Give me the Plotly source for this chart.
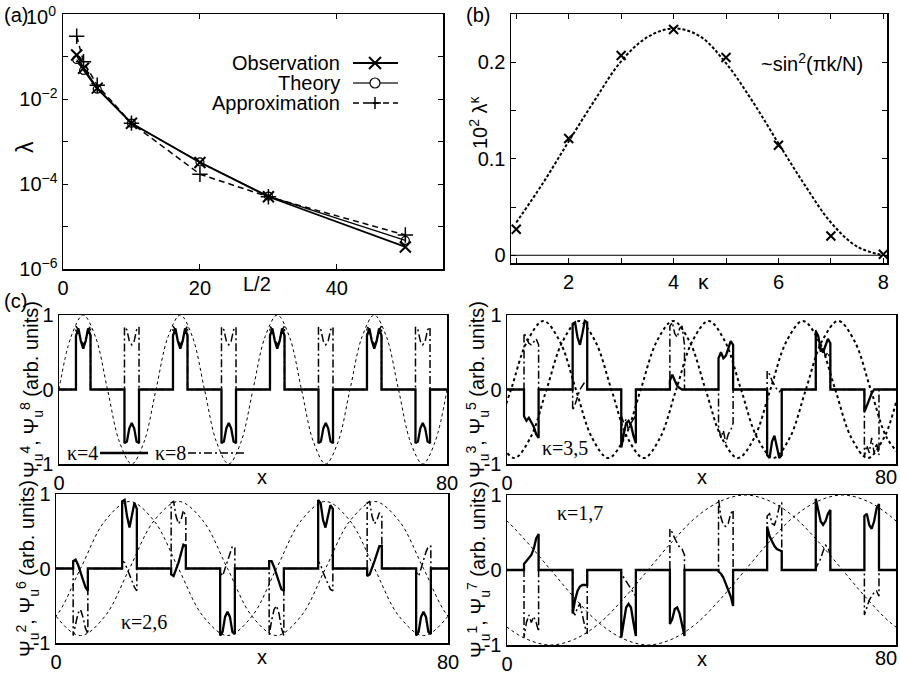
import plotly.graph_objects as go

W, H = 900, 675
SANS = "Liberation Sans"
SERIF = "Liberation Serif"

# ---------------- (a) data ----------------
HALF_L = [2, 3, 5, 10, 20, 30, 50]
LAMBDA_OBS = [0.108, 0.053, 0.018, 0.0027, 3.2e-4, 5.0e-5, 3.3e-6]
LAMBDA_THEORY = [0.085, 0.047, 0.017, 0.0027, 3.3e-4, 5.2e-5, 4.7e-6]
LAMBDA_APPROX = [0.30, 0.075, 0.021, 0.0027, 1.7e-4, 5.0e-5, 6.3e-6]
A_YTICKS = [1e-6, 1e-5, 1e-4, 1e-3, 1e-2, 1e-1, 1]
A_YTEXT = ["10<sup>−6</sup>", "", "10<sup>−4</sup>", "", "10<sup>−2</sup>", "", ""]

# ---------------- (b) data ----------------
KAPPA = [1, 2, 3, 4, 5, 6, 7, 8]
LAMBDA_K = [0.027, 0.121, 0.207, 0.234, 0.205, 0.114, 0.020, 0.001]
KAPPA_FIT = [1, 1.5, 2, 2.5, 3, 3.5, 4, 4.5, 5, 5.5, 6, 6.5, 7, 7.5, 8]
LAMBDA_FIT = [0.034, 0.074, 0.118, 0.161, 0.201, 0.226, 0.235, 0.227, 0.199,
              0.160, 0.116, 0.073, 0.034, 0.009, 0.0]

# ---------------- (c) data ----------------
WELL_CENTERS = [5, 15, 25, 35, 45, 55, 65, 75]
HALF_W = 1.5

C1_SOLID = [  # kappa = 4
    [0.72, 0.82, 0.65, 0.55, 0.65, 0.82, 0.72],
    [-0.72, -0.70, -0.52, -0.45, -0.52, -0.70, -0.72],
    [0.72, 0.82, 0.65, 0.55, 0.65, 0.82, 0.72],
    [-0.72, -0.70, -0.52, -0.45, -0.52, -0.70, -0.72],
    [0.72, 0.82, 0.65, 0.55, 0.65, 0.82, 0.72],
    [-0.72, -0.70, -0.52, -0.45, -0.52, -0.70, -0.72],
    [0.72, 0.82, 0.65, 0.55, 0.65, 0.82, 0.72],
    [-0.72, -0.70, -0.52, -0.45, -0.52, -0.70, -0.72],
]
C1_DASHDOT = [  # kappa = 8
    [0.85, 0.80, 0.66, 0.60, 0.66, 0.80, 0.85],
    [0.84, 0.80, 0.65, 0.60, 0.65, 0.80, 0.84],
    [0.85, 0.80, 0.66, 0.60, 0.66, 0.80, 0.85],
    [0.84, 0.80, 0.65, 0.60, 0.65, 0.80, 0.84],
    [0.85, 0.80, 0.66, 0.60, 0.66, 0.80, 0.85],
    [0.84, 0.80, 0.65, 0.60, 0.65, 0.80, 0.84],
    [0.85, 0.80, 0.66, 0.60, 0.66, 0.80, 0.85],
    [0.84, 0.80, 0.65, 0.60, 0.65, 0.80, 0.84],
]
C1_ENV_X = [2.5 * i for i in range(33)]
C1_ENV_Y = [0, 0.71, 1, 0.71, 0, -0.71, -1, -0.71,
            0, 0.71, 1, 0.71, 0, -0.71, -1, -0.71,
            0, 0.71, 1, 0.71, 0, -0.71, -1, -0.71,
            0, 0.71, 1, 0.71, 0, -0.71, -1, -0.71, 0]

C2_SOLID = [  # kappa = 3
    [-0.36, -0.42, -0.38, -0.45, -0.50, -0.60, -0.65],
    [0.88, 0.90, 0.70, 0.60, 0.75, 0.92, 0.90],
    [-0.78, -0.60, -0.45, -0.42, -0.48, -0.62, -0.72],
    [0.12, 0.20, 0.12, 0.05, 0.02, 0.0, 0.0],
    [0.42, 0.50, 0.42, 0.45, 0.55, 0.65, 0.60],
    [-0.88, -0.92, -0.70, -0.62, -0.75, -0.92, -0.88],
    [0.78, 0.72, 0.55, 0.50, 0.58, 0.68, 0.62],
    [-0.30, -0.22, -0.12, -0.05, 0.0, 0.0, 0.0],
]
C2_DASHDOT = [  # kappa = 5
    [0.76, 0.70, 0.62, 0.60, 0.64, 0.68, 0.60],
    [-0.28, -0.20, -0.10, 0.0, 0.05, 0.10, 0.12],
    [-0.35, -0.45, -0.40, -0.55, -0.45, -0.40, -0.35],
    [0.85, 0.90, 0.75, 0.70, 0.82, 0.85, 0.60],
    [-0.50, -0.65, -0.55, -0.72, -0.60, -0.55, -0.45],
    [0.25, 0.20, 0.12, 0.05, 0.0, -0.03, 0.0],
    [0.80, 0.65, 0.50, 0.55, 0.45, 0.50, 0.40],
    [-0.90, -0.75, -0.85, -0.65, -0.85, -0.72, -0.88],
]
C2_ENV_A_X = [-2.5 + 10 / 3 * i for i in range(27)]
C2_ENV_A_Y = [-0.65, 0, 0.65, 0.92, 0.65, 0, -0.65, -0.92,
              -0.65, 0, 0.65, 0.92, 0.65, 0, -0.65, -0.92,
              -0.65, 0, 0.65, 0.92, 0.65, 0, -0.65, -0.92,
              -0.65, 0, 0.65]
C2_ENV_B_X = [-1.87 + 10 / 3 * i for i in range(26)]
C2_ENV_B_Y = [-0.65, -0.92, -0.65, 0, 0.65, 0.92, 0.65, 0,
              -0.65, -0.92, -0.65, 0, 0.65, 0.92, 0.65, 0,
              -0.65, -0.92, -0.65, 0, 0.65, 0.92, 0.65, 0,
              -0.65, -0.92]

C3_SOLID = [  # kappa = 2
    [0.10, 0.12, 0.05, -0.05, -0.15, -0.25, -0.30],
    [0.90, 0.92, 0.70, 0.55, 0.70, 0.88, 0.80],
    [-0.08, -0.10, -0.02, 0.08, 0.20, 0.32, 0.30],
    [-0.90, -0.85, -0.65, -0.58, -0.65, -0.85, -0.88],
    [0.10, 0.10, 0.02, -0.08, -0.18, -0.28, -0.30],
    [0.92, 0.88, 0.65, 0.55, 0.70, 0.85, 0.80],
    [-0.10, -0.08, 0.0, 0.10, 0.20, 0.30, 0.30],
    [-0.90, -0.85, -0.65, -0.58, -0.65, -0.85, -0.88],
]
C3_DASHDOT = [  # kappa = 6
    [-0.90, -0.75, -0.60, -0.55, -0.65, -0.80, -0.88],
    [0.10, 0.08, 0.0, -0.08, -0.15, -0.25, -0.30],
    [0.88, 0.90, 0.70, 0.60, 0.65, 0.78, 0.70],
    [-0.05, -0.10, 0.0, 0.10, 0.20, 0.30, 0.28],
    [-0.90, -0.70, -0.55, -0.50, -0.60, -0.80, -0.90],
    [0.10, 0.05, -0.05, -0.12, -0.20, -0.28, -0.30],
    [0.88, 0.90, 0.70, 0.60, 0.65, 0.75, 0.70],
    [-0.05, -0.10, 0.0, 0.12, 0.22, 0.30, 0.30],
]
C3_ENV_X = [-5 + 5 * i for i in range(19)]
C3_ENV_A_Y = [-0.9, -0.64, 0, 0.64, 0.9, 0.64, 0, -0.64, -0.9, -0.64,
              0, 0.64, 0.9, 0.64, 0, -0.64, -0.9, -0.64, 0]
C3_ENV_B_Y = [0, -0.64, -0.9, -0.64, 0, 0.64, 0.9, 0.64, 0, -0.64,
              -0.9, -0.64, 0, 0.64, 0.9, 0.64, 0, -0.64, -0.9]

C4_SOLID = [  # kappa = 1
    [0.08, 0.12, 0.15, 0.20, 0.28, 0.42, 0.48],
    [-0.58, -0.40, -0.28, -0.22, -0.20, -0.20, -0.20],
    [-0.90, -0.70, -0.50, -0.45, -0.50, -0.70, -0.88],
    [-0.72, -0.65, -0.52, -0.50, -0.58, -0.75, -0.88],
    [-0.02, -0.05, -0.10, -0.18, -0.25, -0.35, -0.48],
    [0.58, 0.45, 0.38, 0.32, 0.28, 0.26, 0.25],
    [0.95, 0.80, 0.65, 0.60, 0.65, 0.75, 0.80],
    [0.72, 0.75, 0.60, 0.55, 0.65, 0.82, 0.88],
]
C4_DASHDOT = [  # kappa = 7
    [-0.90, -0.70, -0.60, -0.70, -0.62, -0.70, -0.82],
    [-0.55, -0.60, -0.50, -0.45, -0.60, -0.75, -0.85],
    [-0.05, -0.10, -0.15, -0.20, -0.25, -0.30, -0.35],
    [0.55, 0.50, 0.42, 0.35, 0.30, 0.28, 0.20],
    [0.95, 0.70, 0.60, 0.58, 0.62, 0.75, 0.80],
    [0.72, 0.75, 0.62, 0.60, 0.70, 0.85, 0.90],
    [0.02, 0.08, 0.15, 0.25, 0.33, 0.30, 0.20],
    [-0.60, -0.50, -0.40, -0.35, -0.30, -0.28, -0.35],
]
C4_ENV_X = [-11 + 5 * i for i in range(21)]
C4_ENV_A_Y = [1, 0.92, 0.71, 0.38, 0, -0.38, -0.71, -0.92, -1, -0.92, -0.71,
              -0.38, 0, 0.38, 0.71, 0.92, 1, 0.92, 0.71, 0.38, 0]
C4_ENV_B_Y = [0, -0.38, -0.71, -0.92, -1, -0.92, -0.71, -0.38, 0, 0.38, 0.71,
              0.92, 1, 0.92, 0.71, 0.38, 0, -0.38, -0.71, -0.92, -1]


def wave(centers, profiles, hw=HALF_W, xmin=0, xmax=80):
    xs, ys = [xmin], [0]
    for c, prof in zip(centers, profiles):
        n = len(prof)
        xs.append(c - hw); ys.append(0)
        for i, v in enumerate(prof):
            xs.append(c - hw + 2 * hw * i / (n - 1)); ys.append(v)
        xs.append(c + hw); ys.append(0)
    xs.append(xmax); ys.append(0)
    return xs, ys


fig = go.Figure()
BLACK = "black"

# ---- (a) ----
fig.add_trace(go.Scatter(x=HALF_L, y=LAMBDA_APPROX, mode="lines+markers", xaxis="x", yaxis="y",
                         line=dict(color=BLACK, width=1.5, dash="6px,4px"),
                         marker=dict(symbol="cross-thin", size=11, line=dict(width=1.5, color=BLACK))))
fig.add_trace(go.Scatter(x=HALF_L, y=LAMBDA_THEORY, mode="lines+markers", xaxis="x", yaxis="y",
                         line=dict(color=BLACK, width=1.2),
                         marker=dict(symbol="circle-open", size=8, color=BLACK, line=dict(width=1.2))))
fig.add_trace(go.Scatter(x=HALF_L, y=LAMBDA_OBS, mode="lines+markers", xaxis="x", yaxis="y",
                         line=dict(color=BLACK, width=1.8),
                         marker=dict(symbol="x-thin", size=11, line=dict(width=2, color=BLACK))))

# ---- (b) ----
fig.add_trace(go.Scatter(x=KAPPA_FIT, y=LAMBDA_FIT, mode="lines", xaxis="x2", yaxis="y2",
                         line=dict(color=BLACK, width=2, dash="3px,2px", shape="spline")))
fig.add_trace(go.Scatter(x=KAPPA, y=LAMBDA_K, mode="markers", xaxis="x2", yaxis="y2",
                         marker=dict(symbol="x-thin", size=9, line=dict(width=2, color=BLACK))))

# ---- (c) panels ----
panels = [
    ("x3", "y3", [(C1_ENV_X, C1_ENV_Y)], C1_SOLID, C1_DASHDOT, dict(width=1, dash="3px,3px")),
    ("x4", "y4", [(C2_ENV_A_X, C2_ENV_A_Y), (C2_ENV_B_X, C2_ENV_B_Y)], C2_SOLID, C2_DASHDOT,
     dict(width=2, dash="3px,3px")),
    ("x5", "y5", [(C3_ENV_X, C3_ENV_A_Y), (C3_ENV_X, C3_ENV_B_Y)], C3_SOLID, C3_DASHDOT,
     dict(width=1, dash="3px,3px")),
    ("x6", "y6", [(C4_ENV_X, C4_ENV_A_Y), (C4_ENV_X, C4_ENV_B_Y)], C4_SOLID, C4_DASHDOT,
     dict(width=1, dash="3px,3px")),
]
for xa, ya, envs, solid, dashdot, envstyle in panels:
    for ex, ey in envs:
        fig.add_trace(go.Scatter(x=ex, y=ey, mode="lines", xaxis=xa, yaxis=ya,
                                 line=dict(color=BLACK, shape="spline", **envstyle)))
    dx, dy = wave(WELL_CENTERS, dashdot)
    fig.add_trace(go.Scatter(x=dx, y=dy, mode="lines", xaxis=xa, yaxis=ya,
                             line=dict(color=BLACK, width=1.5, dash="8px,3px,2px,3px")))
    sx, sy = wave(WELL_CENTERS, solid)
    fig.add_trace(go.Scatter(x=sx, y=sy, mode="lines", xaxis=xa, yaxis=ya,
                             line=dict(color=BLACK, width=2.3)))

TICKFONT = dict(family=SANS, size=20, color=BLACK)


def ax(dom, anchor, **kw):
    d = dict(domain=dom, anchor=anchor, showline=True, linecolor=BLACK, linewidth=1.5,
             mirror="ticks", ticks="inside", ticklen=5, tickwidth=1, tickcolor=BLACK,
             tickfont=TICKFONT, showgrid=False, zeroline=False, automargin=False)
    d.update(kw)
    return d


def hx(a, b):
    return [a / W, b / W]


def vy(top, bottom):
    return [1 - bottom / H, 1 - top / H]


fig.update_layout(
    width=W, height=H, margin=dict(l=0, r=0, t=0, b=0, autoexpand=False),
    paper_bgcolor="white", plot_bgcolor="white", showlegend=False,
    xaxis=ax(hx(63, 443), "y", range=[0, 55.5], tickvals=[0, 20, 40]),
    yaxis=ax(vy(14, 269), "x", type="log", range=[-6, 0], tickvals=A_YTICKS, ticktext=A_YTEXT),
    xaxis2=ax(hx(511, 887), "y2", range=[0.9, 8.07], tickvals=KAPPA,
              ticktext=["", "2", "", "4", "", "6", "", "8"]),
    yaxis2=ax(vy(14, 263), "x2", range=[-0.008, 0.25], tickvals=[0, 0.05, 0.1, 0.15, 0.2],
              ticktext=["0", "", "0.1", "", "0.2"]),
    xaxis3=ax(hx(59, 447), "y3", range=[0, 80], tickvals=[0, 80], ticks=""),
    yaxis3=ax(vy(315, 464), "x3", range=[-1, 1], tickvals=[-1, 0, 1], ticktext=["-1", "0", "1"], ticks=""),
    xaxis4=ax(hx(507, 896), "y4", range=[0, 80], tickvals=[0], ticks=""),
    yaxis4=ax(vy(315, 464), "x4", range=[-1, 1], tickvals=[-1, 0, 1], ticktext=["-1", "0", "1"], ticks=""),
    xaxis5=ax(hx(56, 448), "y5", range=[0, 80], tickvals=[0, 80], ticks=""),
    yaxis5=ax(vy(494, 643), "x5", range=[-1, 1], tickvals=[-1, 0, 1], ticktext=["-1", "0", "1"], ticks=""),
    xaxis6=ax(hx(507, 896), "y6", range=[0, 80], tickvals=[0], ticks=""),
    yaxis6=ax(vy(495, 645), "x6", range=[-1, 1], tickvals=[-1, 0, 1], ticktext=["-1", "0", "1"], ticks=""),
)

# zero line in (b)
fig.add_shape(type="line", xref="x2 domain", yref="y2", x0=0, x1=1, y0=0, y1=0,
              line=dict(color=BLACK, width=1))


def ann(text, x, y, size=20, family=SANS, angle=0, xanchor="center", yanchor="middle"):
    fig.add_annotation(text=text, x=x / W, y=1 - y / H, xref="paper", yref="paper", showarrow=False,
                       font=dict(family=family, size=size, color=BLACK), textangle=angle,
                       xanchor=xanchor, yanchor=yanchor)


ann("(a)", 16, 15)
ann("(b)", 478, 15)
ann("(c)", 15, 301)
ann("10<sup>0</sup>", 58, 16, xanchor="right")
ann("λ", 25, 147, size=23, angle=-90)
ann("L/2", 257, 284)
ann("10<sup>2</sup> λ<sup>κ</sup>", 478, 122, angle=-90)
ann("κ", 703, 281, size=21)
ann("~sin<sup>2</sup>(πk/N)", 812, 62)

# right-hand "80" tick labels of the right-column panels
ann("80", 899, 477, xanchor="right")
ann("80", 899, 658, xanchor="right")

# legend of (a)
for label, yy in [("Observation", 63), ("Theory", 83), ("Approximation", 103)]:
    ann(label, 342, yy, xanchor="right")


def pline(x0, y0, x1, y1, width=1.5, dash=None):
    fig.add_shape(type="line", xref="paper", yref="paper", x0=x0 / W, y0=1 - y0 / H, x1=x1 / W, y1=1 - y1 / H,
                  line=dict(color=BLACK, width=width, dash=dash))


pline(353, 63, 398, 63, 1.8)
pline(369, 57, 381, 69, 2)
pline(369, 69, 381, 57, 2)
pline(353, 83, 370, 83, 1.2)
pline(380, 83, 398, 83, 1.2)
fig.add_shape(type="circle", xref="paper", yref="paper", x0=370 / W, x1=380 / W, y0=1 - 88 / H, y1=1 - 78 / H,
              line=dict(color=BLACK, width=1.2))
pline(353, 103, 398, 103, 1.5, "6px,4px")
pline(369, 103, 381, 103, 1.5)
pline(375, 97, 375, 109, 1.5)

# (c) axis titles
for xx, yy in [(262, 477), (702, 477), (262, 657), (702, 659)]:
    ann("x", xx, yy)
ann("Ψ<sub>u</sub><sup>4</sup>, Ψ<sub>u</sub><sup>8</sup> (arb. units)", 32, 390, angle=-90)
ann("Ψ<sub>u</sub><sup>3</sup>, Ψ<sub>u</sub><sup>5</sup> (arb. units)", 478, 390, angle=-90)
ann("Ψ<sub>u</sub><sup>2</sup>, Ψ<sub>u</sub><sup>6</sup> (arb. units)", 27, 569, angle=-90)
ann("Ψ<sub>u</sub><sup>1</sup>, Ψ<sub>u</sub><sup>7</sup> (arb. units)", 478, 570, angle=-90)

# kappa labels
ann("κ=4", 82, 453, size=20, family=SERIF)
pline(100, 453, 148, 453, 2.3)
ann("κ=8", 170, 453, size=20, family=SERIF)
pline(188, 453, 245, 453, 1.5, "8px,3px,2px,3px")
ann("κ=3,5", 565, 448, size=20, family=SERIF)
ann("κ=2,6", 144, 622, size=20, family=SERIF)
ann("κ=1,7", 580, 513, size=20, family=SERIF)

fig.write_html("out.html", config={"displayModeBar": False, "staticPlot": True})

# remove the browser's default page margin so the 900x675 figure fills the window exactly
with open("out.html", "r", encoding="utf-8") as f:
    page = f.read()
page = page.replace("<head>", "<head><style>html,body{margin:0;padding:0;overflow:hidden;}</style>", 1)
with open("out.html", "w", encoding="utf-8") as f:
    f.write(page)
